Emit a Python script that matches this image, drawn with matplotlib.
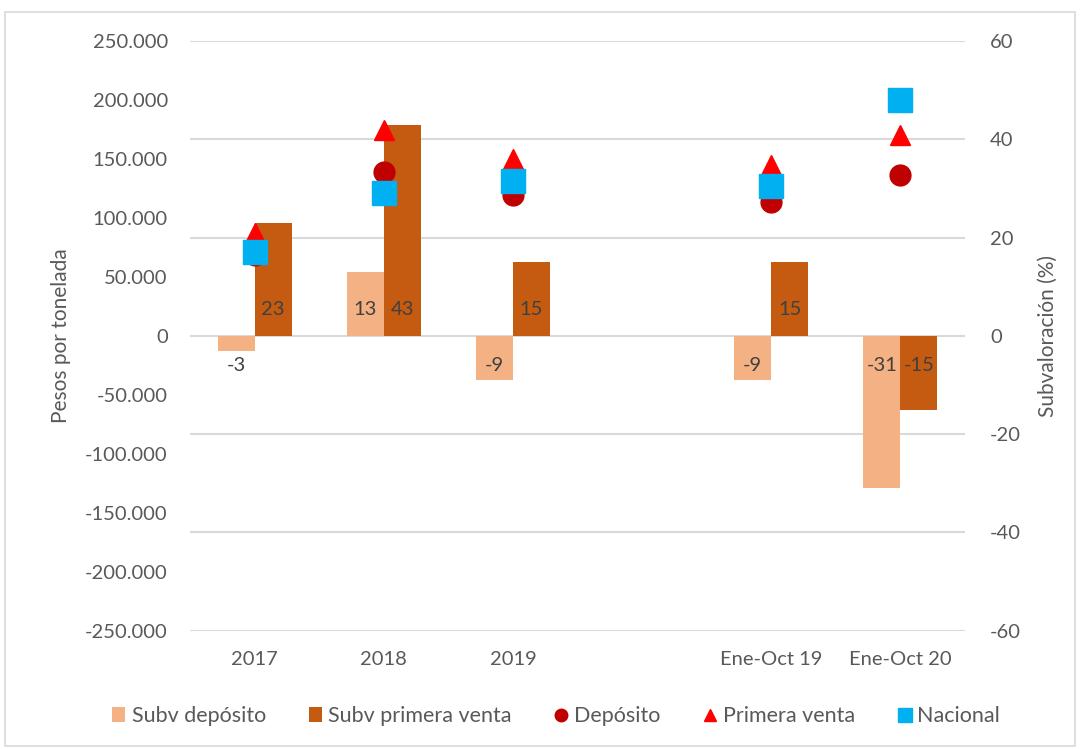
import matplotlib
matplotlib.use("Agg")
import matplotlib.pyplot as plt
import numpy as np
from matplotlib.ticker import FuncFormatter, MultipleLocator
from matplotlib.patches import Rectangle

plt.rcParams['font.family'] = ['Lato', 'DejaVu Sans']
plt.rcParams['axes.unicode_minus'] = False

categorias = ["2017", "2018", "2019", "", "Ene-Oct 19", "Ene-Oct 20"]
# subvaloracion (%) - eje derecho
subv_deposito = [-3, 13, -9, None, -9, -31]
subv_primera = [23, 43, 15, None, 15, -15]
# pesos por tonelada - eje izquierdo
deposito = [69000, 139000, 119500, None, 113500, 136500]
primera_venta = [87000, 174500, 150000, None, 145000, 170500]
nacional = [71000, 121000, 131500, None, 127000, 200000]

c_subv_dep = "#F4B183"
c_subv_pv = "#C55A11"
c_dep = "#C00000"
c_pv = "#FF0000"
c_nac = "#00B0F0"
gris = "#595959"

fig = plt.figure(figsize=(10.8, 7.49), dpi=100)
ax = fig.add_axes([0.176, 0.158, 0.7175, 0.787])
ax2 = ax.twinx()
ax.set_zorder(ax2.get_zorder() + 1)
ax.patch.set_visible(False)

x = np.arange(len(categorias))
w = 0.287

def limpiar(vals):
    return [np.nan if v is None else v for v in vals]

b1 = ax2.bar(x - w / 2, limpiar(subv_deposito), w, color=c_subv_dep, label="Subv depósito")
b2 = ax2.bar(x + w / 2, limpiar(subv_primera), w, color=c_subv_pv, label="Subv primera venta")

for xs, vals in [(x - w / 2, subv_deposito), (x + w / 2, subv_primera)]:
    for xi, v in zip(xs, vals):
        if v is None:
            continue
        off = 26 if v > 0 else -30
        ax2.annotate(str(v), (xi, 0), xytext=(0, off), textcoords="offset pixels",
                     ha="center", va="center", fontsize=14.5, color="#404040")

m1, = ax.plot(x, limpiar(deposito), "o", color=c_dep, markersize=15, linestyle="none", label="Depósito")
m2, = ax.plot(x, limpiar(primera_venta), "^", color=c_pv, markersize=15, linestyle="none", label="Primera venta")
m3, = ax.plot(x, limpiar(nacional), "s", color=c_nac, markersize=17, linestyle="none", label="Nacional")

ax.set_xlim(-0.5, len(categorias) - 0.5)
ax.set_ylim(-250000, 250000)
ax2.set_ylim(-60, 60)
ax.yaxis.set_major_locator(MultipleLocator(50000))
ax2.yaxis.set_major_locator(MultipleLocator(20))
ax.yaxis.set_major_formatter(FuncFormatter(lambda v, p: f"{v:,.0f}".replace(",", ".")))

ax.set_xticks(x)
ax.set_xticklabels(categorias)

ax2.grid(axis="y", color="#D9D9D9", linewidth=1.5)
ax2.set_axisbelow(True)
for a in (ax, ax2):
    for s in a.spines.values():
        s.set_visible(False)
    a.tick_params(length=0, labelsize=14.5, colors=gris)
ax.tick_params(axis="y", pad=16)
ax2.tick_params(axis="y", pad=18)
ax.tick_params(axis="x", pad=15)

ax.set_ylabel("Pesos por tonelada", fontsize=15, color=gris, labelpad=10)
ax2.set_ylabel("Subvaloración (%)", fontsize=15, color=gris, labelpad=12)

fig.legend(handles=[b1, b2, m1, m2, m3], loc="center", bbox_to_anchor=(0.515, 0.044),
           ncol=5, frameon=False, fontsize=15.5, handlelength=0.6, handletextpad=0.3,
           columnspacing=2.0, markerscale=0.6, labelcolor=gris)

fig.patches.append(Rectangle((0.005, 0.004), 0.99, 0.98, transform=fig.transFigure,
                             fill=False, edgecolor="#D9D9D9", linewidth=1.2))

fig.savefig("out.png", dpi=100)
